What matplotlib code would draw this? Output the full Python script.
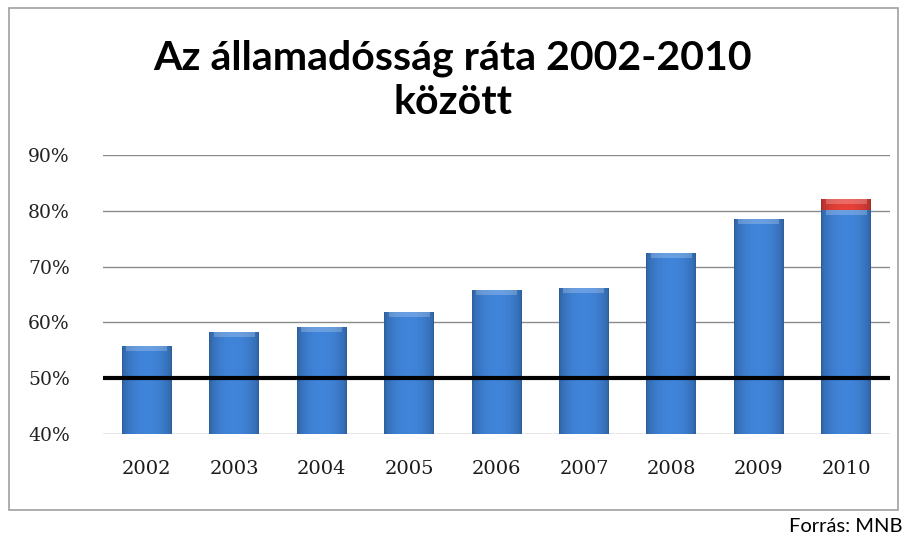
import numpy as np
import matplotlib
matplotlib.use("Agg")
from matplotlib import pyplot as plt
from matplotlib.patches import Rectangle
from matplotlib.colors import to_rgb

# adatok
years = ["2002", "2003", "2004", "2005", "2006", "2007", "2008", "2009", "2010"]
debt = [55.8, 58.3, 59.1, 61.8, 65.8, 66.1, 72.4, 78.6, 80.2]
extra = [0, 0, 0, 0, 0, 0, 0, 0, 2.0]  # 2010 piros rész
y_ticks = [40, 50, 60, 70, 80, 90]
limit = 50

W, H = 905, 539
fig = plt.figure(figsize=(W / 100, H / 100), dpi=100)
ax = fig.add_axes([103 / W, 1 - 434 / H, 787 / W, 279 / H])

# keret a diagram körül
fig.patches.append(Rectangle((9 / W, 1 - 510 / H), 889 / W, 502 / H,
                             transform=fig.transFigure, fill=False,
                             edgecolor="#a0a0a0", lw=1.2))


def shaded_bar(x, bottom, height, color, width=0.57):
    # henger-szerű árnyalás a sávon belül
    base = np.array(to_rgb(color))
    t = np.linspace(0, 1, 60)
    shade = 0.75 + 0.32 * np.sin(np.pi * t) ** 0.5
    img = np.clip(base[None, :] * shade[:, None], 0, 1)[None, :, :]
    rect = Rectangle((x - width / 2, bottom), width, height,
                     facecolor=color, edgecolor="none", zorder=3)
    ax.add_patch(rect)
    im = ax.imshow(img, extent=[x - width / 2, x + width / 2, bottom, bottom + height],
                   aspect="auto", zorder=3.1, interpolation="bilinear")
    im.set_clip_path(rect)
    # világosabb felső perem
    top = Rectangle((x - width / 2 + 0.05, bottom + height - 0.9), width - 0.1, 0.9,
                    facecolor="white", alpha=0.22, edgecolor="none", zorder=3.2)
    ax.add_patch(top)


x = np.arange(len(years))
for i in x:
    shaded_bar(i, y_ticks[0], debt[i] - y_ticks[0], "#3c7ccc")
    if extra[i] > 0:
        shaded_bar(i, debt[i], extra[i], "#d83c36")

ax.set_xlim(-0.5, len(years) - 0.5)
ax.set_ylim(y_ticks[0], y_ticks[-1])
ax.set_yticks(y_ticks)
ax.set_yticklabels([f"{v}%" for v in y_ticks], family="DejaVu Serif",
                   fontsize=13.5, color="#222222")
ax.set_xticks(x)
ax.set_xticklabels(years, family="DejaVu Serif", fontsize=14, color="#1a1a1a")
ax.tick_params(length=0)
ax.tick_params(axis="x", pad=19)
ax.tick_params(axis="y", pad=24)
for v in y_ticks:
    ax.axhline(v, color="#8a8a8a", lw=1, zorder=1)
ax.axhline(limit, color="black", lw=3, zorder=4)
for s in ax.spines.values():
    s.set_visible(False)

fig.text(0.5, 1 - 58 / H, "Az államadósság ráta 2002-2010", ha="center", va="center",
         family="Lato", fontweight="bold", fontsize=29.5)
fig.text(0.5, 1 - 102 / H, "között", ha="center", va="center",
         family="Lato", fontweight="bold", fontsize=29.5)
fig.text(1 - 3 / W, 1 - 526 / H, "Forrás: MNB", ha="right", va="center",
         family="Lato", fontsize=14.5)

fig.savefig("out.png", dpi=100)
